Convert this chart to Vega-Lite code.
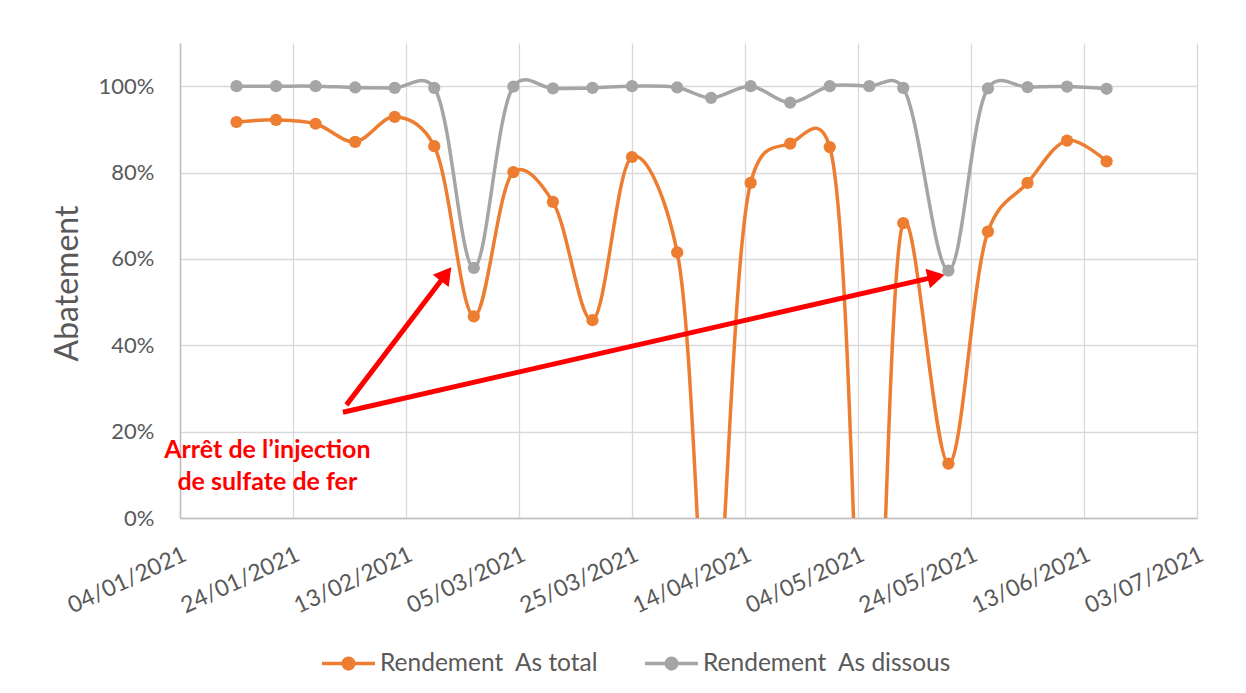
{
  "$schema": "https://vega.github.io/schema/vega-lite/v6.json",
  "width": 1017,
  "height": 475,
  "autosize": {"type": "none"},
  "padding": {"left": 180, "top": 43, "right": 49, "bottom": 175},
  "background": "white",
  "config": {
    "view": {"stroke": null},
    "font": "Lato",
    "axis": {
      "labelFont": "Lato",
      "labelFontSize": 22,
      "labelColor": "#595959",
      "titleFont": "Lato",
      "titleColor": "#595959",
      "gridColor": "#d9d9d9",
      "gridWidth": 1.3,
      "domainColor": "#bfbfbf",
      "domainWidth": 1.5,
      "ticks": false
    }
  },
  "datasets": {
    "series": [
      {"date": "2021-01-14", "series": "Rendement\u00a0 As total", "value": 0.917},
      {"date": "2021-01-21", "series": "Rendement\u00a0 As total", "value": 0.922},
      {"date": "2021-01-28", "series": "Rendement\u00a0 As total", "value": 0.913},
      {"date": "2021-02-04", "series": "Rendement\u00a0 As total", "value": 0.871},
      {"date": "2021-02-11", "series": "Rendement\u00a0 As total", "value": 0.929},
      {"date": "2021-02-18", "series": "Rendement\u00a0 As total", "value": 0.861},
      {"date": "2021-02-25", "series": "Rendement\u00a0 As total", "value": 0.467},
      {"date": "2021-03-04", "series": "Rendement\u00a0 As total", "value": 0.801},
      {"date": "2021-03-11", "series": "Rendement\u00a0 As total", "value": 0.732},
      {"date": "2021-03-18", "series": "Rendement\u00a0 As total", "value": 0.458},
      {"date": "2021-03-25", "series": "Rendement\u00a0 As total", "value": 0.836},
      {"date": "2021-04-02", "series": "Rendement\u00a0 As total", "value": 0.615},
      {"date": "2021-04-08", "series": "Rendement\u00a0 As total", "value": -0.35},
      {"date": "2021-04-15", "series": "Rendement\u00a0 As total", "value": 0.776},
      {"date": "2021-04-22", "series": "Rendement\u00a0 As total", "value": 0.867},
      {"date": "2021-04-29", "series": "Rendement\u00a0 As total", "value": 0.859},
      {"date": "2021-05-06", "series": "Rendement\u00a0 As total", "value": -0.7},
      {"date": "2021-05-12", "series": "Rendement\u00a0 As total", "value": 0.683},
      {"date": "2021-05-20", "series": "Rendement\u00a0 As total", "value": 0.126},
      {"date": "2021-05-27", "series": "Rendement\u00a0 As total", "value": 0.663},
      {"date": "2021-06-03", "series": "Rendement\u00a0 As total", "value": 0.776},
      {"date": "2021-06-10", "series": "Rendement\u00a0 As total", "value": 0.874},
      {"date": "2021-06-17", "series": "Rendement\u00a0 As total", "value": 0.826},
      {"date": "2021-01-14", "series": "Rendement\u00a0 As dissous", "value": 1.0},
      {"date": "2021-01-21", "series": "Rendement\u00a0 As dissous", "value": 1.0},
      {"date": "2021-01-28", "series": "Rendement\u00a0 As dissous", "value": 1.0},
      {"date": "2021-02-04", "series": "Rendement\u00a0 As dissous", "value": 0.997},
      {"date": "2021-02-11", "series": "Rendement\u00a0 As dissous", "value": 0.996},
      {"date": "2021-02-18", "series": "Rendement\u00a0 As dissous", "value": 0.996},
      {"date": "2021-02-25", "series": "Rendement\u00a0 As dissous", "value": 0.579},
      {"date": "2021-03-04", "series": "Rendement\u00a0 As dissous", "value": 0.999},
      {"date": "2021-03-11", "series": "Rendement\u00a0 As dissous", "value": 0.995},
      {"date": "2021-03-18", "series": "Rendement\u00a0 As dissous", "value": 0.996},
      {"date": "2021-03-25", "series": "Rendement\u00a0 As dissous", "value": 1.0},
      {"date": "2021-04-02", "series": "Rendement\u00a0 As dissous", "value": 0.997},
      {"date": "2021-04-08", "series": "Rendement\u00a0 As dissous", "value": 0.973},
      {"date": "2021-04-15", "series": "Rendement\u00a0 As dissous", "value": 1.0},
      {"date": "2021-04-22", "series": "Rendement\u00a0 As dissous", "value": 0.962},
      {"date": "2021-04-29", "series": "Rendement\u00a0 As dissous", "value": 1.0},
      {"date": "2021-05-06", "series": "Rendement\u00a0 As dissous", "value": 1.0},
      {"date": "2021-05-12", "series": "Rendement\u00a0 As dissous", "value": 0.996},
      {"date": "2021-05-20", "series": "Rendement\u00a0 As dissous", "value": 0.573},
      {"date": "2021-05-27", "series": "Rendement\u00a0 As dissous", "value": 0.995},
      {"date": "2021-06-03", "series": "Rendement\u00a0 As dissous", "value": 0.998},
      {"date": "2021-06-10", "series": "Rendement\u00a0 As dissous", "value": 0.999},
      {"date": "2021-06-17", "series": "Rendement\u00a0 As dissous", "value": 0.994}
    ],
    "arrows": [
      {"arrow": 1, "start": "2021-02-02T11:00:00Z", "startValue": 0.262, "end": "2021-02-20T02:00:00Z", "endValue": 0.565},
      {"arrow": 2, "start": "2021-02-01T20:00:00Z", "startValue": 0.245, "end": "2021-05-17T20:00:00Z", "endValue": 0.559}
    ],
    "notes": [
      {"date": "2021-01-19T11:00:00Z", "value": 0.158, "text": "Arrêt de l’injection"},
      {"date": "2021-01-19T11:00:00Z", "value": 0.084, "text": "de sulfate de fer"}
    ]
  },
  "layer": [
    {
      "data": {"name": "series"},
      "mark": {"type": "line", "interpolate": "catmull-rom", "tension": 0.25, "strokeWidth": 3.5, "clip": true},
      "encoding": {
        "x": {
          "field": "date", "type": "temporal",
          "scale": {"type": "utc", "domain": [{"year": 2021, "month": 1, "date": 4, "utc": true}, {"year": 2021, "month": 7, "date": 3, "utc": true}], "nice": false},
          "axis": {
            "title": null,
            "grid": true,
            "values": [
              {"year": 2021, "month": 1, "date": 4, "utc": true},
              {"year": 2021, "month": 1, "date": 24, "utc": true},
              {"year": 2021, "month": 2, "date": 13, "utc": true},
              {"year": 2021, "month": 3, "date": 5, "utc": true},
              {"year": 2021, "month": 3, "date": 25, "utc": true},
              {"year": 2021, "month": 4, "date": 14, "utc": true},
              {"year": 2021, "month": 5, "date": 4, "utc": true},
              {"year": 2021, "month": 5, "date": 24, "utc": true},
              {"year": 2021, "month": 6, "date": 13, "utc": true},
              {"year": 2021, "month": 7, "date": 3, "utc": true}
            ],
            "format": "%d/%m/%Y",
            "labelFontSize": 23,
            "labelAngle": -25,
            "labelAlign": "right",
            "labelBaseline": "top",
            "labelPadding": 25,
            "labelOverlap": false,
            "labelFlush": false,
            "labelBound": false
          }
        },
        "y": {
          "field": "value", "type": "quantitative",
          "scale": {"domain": [0, 1.1], "nice": false, "zero": false},
          "axis": {
            "title": "Abatement",
            "titleFontSize": 32,
            "titleFontWeight": "normal",
            "titleAngle": -90,
            "titleAlign": "center",
            "titleBaseline": "middle",
            "titleX": -113,
            "titleY": 240,
            "values": [0, 0.2, 0.4, 0.6, 0.8, 1.0],
            "format": ".0%",
            "grid": true,
            "labelPadding": 26
          }
        },
        "color": {
          "field": "series", "type": "nominal",
          "scale": {"domain": ["Rendement\u00a0 As total", "Rendement\u00a0 As dissous"], "range": ["#ED7D31", "#A5A5A5"]},
          "legend": {
            "orient": "none",
            "legendX": 140,
            "legendY": 592,
            "direction": "horizontal",
            "title": null,
            "padding": 0,
            "symbolType": "M-1,0H1M-0.2,0A0.2,0.2,0,1,0,0.2,0A0.2,0.2,0,1,0,-0.2,0Z",
            "symbolSize": 2809,
            "symbolStrokeWidth": 3.5,
            "labelFont": "Lato",
            "labelFontSize": 24.5,
            "labelColor": "#595959",
            "labelOffset": 3,
            "labelLimit": 500,
            "columnPadding": 39,
            "encode": {
              "symbols": {
                "update": {
                  "fill": {"scale": "color", "field": "value"},
                  "stroke": {"scale": "color", "field": "value"},
                  "opacity": {"value": 1}
                }
              }
            }
          }
        }
      }
    },
    {
      "data": {"name": "series"},
      "mark": {"type": "point", "shape": "circle", "filled": true, "size": 150, "opacity": 1, "clip": true},
      "encoding": {
        "x": {"field": "date", "type": "temporal"},
        "y": {"field": "value", "type": "quantitative"},
        "color": {"field": "series", "type": "nominal"}
      }
    },
    {
      "data": {"name": "arrows"},
      "mark": {"type": "rule", "color": "#ff0000", "strokeWidth": 5},
      "encoding": {
        "x": {"field": "start", "type": "temporal"},
        "x2": {"field": "end"},
        "y": {"field": "startValue", "type": "quantitative"},
        "y2": {"field": "endValue"}
      }
    },
    {
      "data": {"name": "arrows"},
      "transform": [{"filter": "datum.arrow == 1"}],
      "mark": {"type": "point", "shape": "triangle-up", "filled": true, "size": 400, "angle": 37.4, "color": "#ff0000", "opacity": 1},
      "encoding": {
        "x": {"field": "end", "type": "temporal"},
        "y": {"field": "endValue", "type": "quantitative"}
      }
    },
    {
      "data": {"name": "arrows"},
      "transform": [{"filter": "datum.arrow == 2"}],
      "mark": {"type": "point", "shape": "triangle-up", "filled": true, "size": 400, "angle": 77.1, "color": "#ff0000", "opacity": 1},
      "encoding": {
        "x": {"field": "end", "type": "temporal"},
        "y": {"field": "endValue", "type": "quantitative"}
      }
    },
    {
      "data": {"name": "notes"},
      "mark": {"type": "text", "font": "Lato", "fontWeight": "bold", "fontSize": 25, "color": "#ff0000", "align": "center", "baseline": "middle"},
      "encoding": {
        "x": {"field": "date", "type": "temporal"},
        "y": {"field": "value", "type": "quantitative"},
        "text": {"field": "text"}
      }
    }
  ]
}
